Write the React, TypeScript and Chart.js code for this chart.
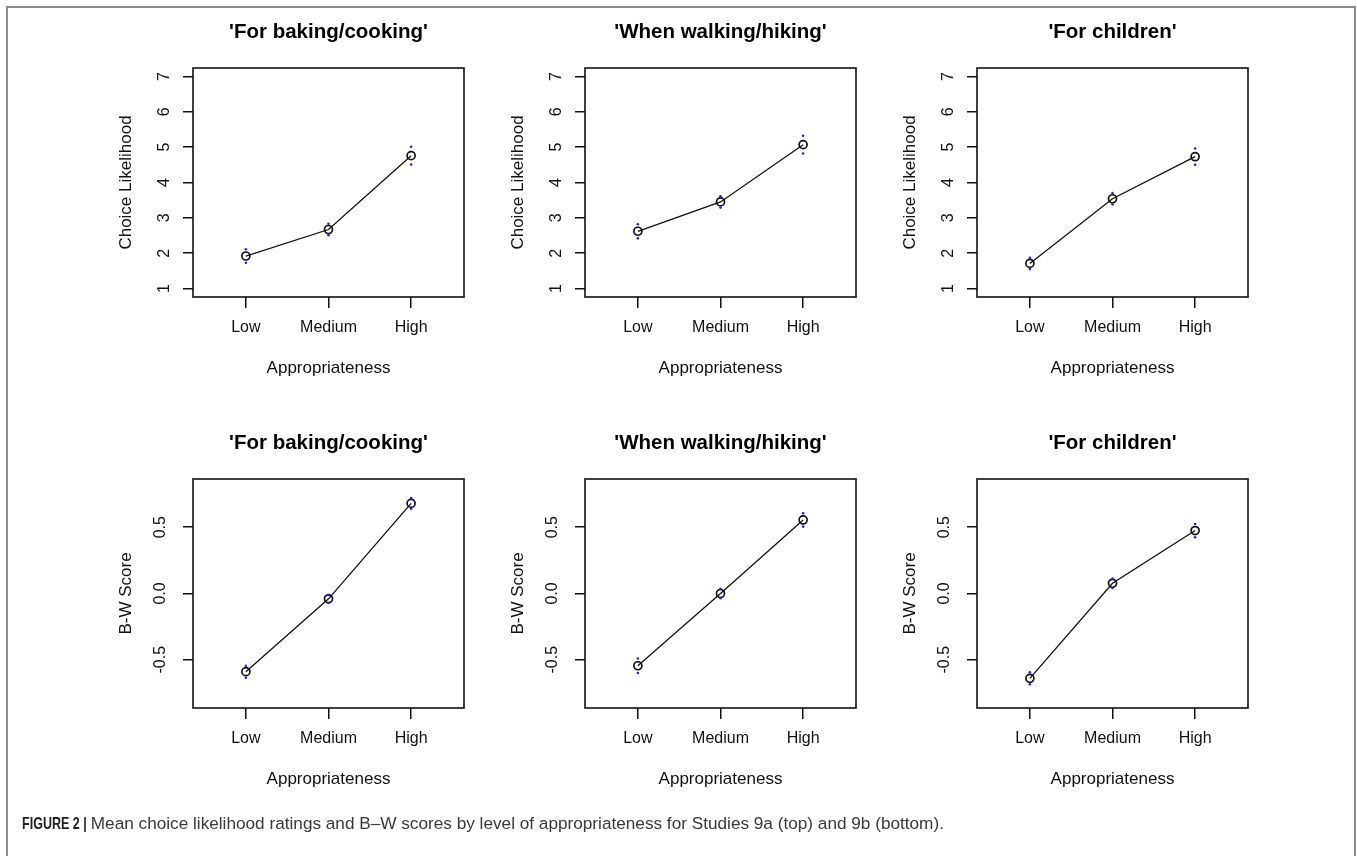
import React, { useEffect, useRef } from 'react';
import { Chart, registerables } from 'chart.js';

Chart.register(...registerables);

// ---- data ----
const levels = ['Low', 'Medium', 'High'];
const contextTitles = ["'For baking/cooking'", "'When walking/hiking'", "'For children'"];

const likelihoodBaking = [1.92, 2.67, 4.76];
const likelihoodWalking = [2.62, 3.45, 5.07];
const likelihoodChildren = [1.71, 3.54, 4.73];
const likelihoodSeBaking = [0.19, 0.16, 0.25];
const likelihoodSeWalking = [0.2, 0.16, 0.25];
const likelihoodSeChildren = [0.16, 0.16, 0.23];

const bwBaking = [-0.59, -0.04, 0.68];
const bwWalking = [-0.545, 0.0, 0.555];
const bwChildren = [-0.64, 0.077, 0.475];
const bwSeBaking = [0.045, 0.03, 0.04];
const bwSeWalking = [0.055, 0.035, 0.05];
const bwSeChildren = [0.045, 0.035, 0.05];

const likelihoodTicks = [1, 2, 3, 4, 5, 6, 7];
const bwTicks = [-0.5, 0.0, 0.5];

const FONT = "'Liberation Sans', Arial, Helvetica, sans-serif";

const framePlugin = {
  id: 'frame',
  afterDraw(chart: any) {
    const { ctx, chartArea } = chart;
    ctx.save();
    ctx.strokeStyle = '#111';
    ctx.lineWidth = 1.6;
    ctx.strokeRect(chartArea.left, chartArea.top, chartArea.right - chartArea.left, chartArea.bottom - chartArea.top);
    ctx.restore();
  },
};

type PanelProps = {
  title: string;
  yLabel: string;
  values: number[];
  se: number[];
  yMin: number;
  yMax: number;
  yTicks: number[];
  decimals: number;
  tickPad: number;
  left: number;
  top: number;
};

const W = 457;
const H = 410;

function Panel(p: PanelProps) {
  const ref = useRef<HTMLCanvasElement>(null);
  useEffect(() => {
    const points = p.values.map((v, i) => ({ x: i + 1, y: v }));
    const errPoints: { x: number; y: number }[] = [];
    p.values.forEach((v, i) => {
      errPoints.push({ x: i + 1, y: v - p.se[i] });
      errPoints.push({ x: i + 1, y: v + p.se[i] });
    });
    const chart = new Chart(ref.current as HTMLCanvasElement, {
      type: 'line',
      data: {
        datasets: [
          {
            data: errPoints,
            showLine: false,
            pointRadius: 1.3,
            pointBackgroundColor: '#1f1fff',
            pointBorderWidth: 0,
            borderColor: '#1f1fff',
          },
          {
            data: points,
            borderColor: '#111',
            borderWidth: 1.3,
            pointRadius: 4,
            pointBorderWidth: 1.7,
            pointBorderColor: '#111',
            pointBackgroundColor: 'rgba(0,0,0,0)',
            fill: false,
            tension: 0,
          },
        ],
      },
      options: {
        animation: false,
        responsive: false,
        events: [],
        layout: { padding: { left: 0, right: 0, top: 0, bottom: 23 } },
        plugins: {
          legend: { display: false },
          tooltip: { enabled: false },
          title: {
            display: true,
            text: p.title,
            color: '#000',
            font: { family: FONT, size: 20.5, weight: 'bold' },
            padding: { top: 20, bottom: 23.4 },
          },
        },
        scales: {
          x: {
            type: 'linear',
            min: 0.36,
            max: 3.64,
            afterBuildTicks: (s: any) => {
              s.ticks = levels.map((_, i) => ({ value: i + 1 }));
            },
            afterFit: (s: any) => {
              s.height = 90;
              s.paddingLeft = 0;
              s.paddingRight = 0;
            },
            ticks: {
              callback: (v: any) => levels[Math.round(v) - 1],
              autoSkip: false,
              maxRotation: 0,
              minRotation: 0,
              padding: 10,
              color: '#111',
              font: { family: FONT, size: 16 },
            },
            grid: { drawOnChartArea: false, drawTicks: true, tickLength: 11, color: '#111', lineWidth: 1.5 },
            border: { display: false },
            title: {
              display: true,
              text: 'Appropriateness',
              color: '#111',
              font: { family: FONT, size: 17 },
              padding: { top: 0, bottom: 8 },
            },
          },
          y: {
            type: 'linear',
            position: 'left',
            min: p.yMin,
            max: p.yMax,
            afterBuildTicks: (s: any) => {
              s.ticks = p.yTicks.map((v) => ({ value: v }));
            },
            afterFit: (s: any) => {
              s.width = 93;
              s.paddingTop = 0;
              s.paddingBottom = 0;
            },
            ticks: {
              callback: (v: any) => Number(v).toFixed(p.decimals),
              minRotation: 90,
              maxRotation: 90,
              crossAlign: 'center',
              padding: p.tickPad,
              color: '#111',
              font: { family: FONT, size: 16 },
            },
            grid: { drawOnChartArea: false, drawTicks: true, tickLength: 10, color: '#111', lineWidth: 1.5 },
            border: { display: false },
            title: {
              display: true,
              text: p.yLabel,
              color: '#111',
              font: { family: FONT, size: 17 },
              padding: { top: 15.8, bottom: 0 },
            },
          },
          yr: {
            type: 'linear',
            position: 'right',
            display: true,
            ticks: { display: false },
            grid: { display: false, drawTicks: false },
            border: { display: false },
            afterFit: (s: any) => {
              s.width = 93;
              s.paddingTop = 0;
              s.paddingBottom = 0;
            },
          },
        },
      } as any,
      plugins: [framePlugin],
    });
    return () => chart.destroy();
  }, []);
  return (
    <canvas
      ref={ref}
      width={W}
      height={H}
      style={{ position: 'absolute', left: p.left, top: p.top, width: W, height: H }}
    />
  );
}

const topValues = [likelihoodBaking, likelihoodWalking, likelihoodChildren];
const topSe = [likelihoodSeBaking, likelihoodSeWalking, likelihoodSeChildren];
const bottomValues = [bwBaking, bwWalking, bwChildren];
const bottomSe = [bwSeBaking, bwSeWalking, bwSeChildren];

export default function App() {
  useEffect(() => {
    document.body.style.margin = '0';
    document.body.style.overflow = 'hidden';
  }, []);
  return (
    <div style={{ position: 'relative', width: 1357, height: 856, overflow: 'hidden', background: '#fff' }}>
      <div
        style={{
          position: 'absolute',
          left: 6,
          top: 6,
          width: 1350,
          height: 1000,
          border: '2px solid #8c8c8c',
          boxSizing: 'border-box',
        }}
      />
      {contextTitles.map((t, i) => (
        <Panel
          key={'t' + i}
          title={t}
          yLabel="Choice Likelihood"
          values={topValues[i]}
          se={topSe[i]}
          yMin={0.76}
          yMax={7.24}
          yTicks={likelihoodTicks}
          decimals={0}
          tickPad={14.4}
          left={100 + 392 * i}
          top={0}
        />
      ))}
      {contextTitles.map((t, i) => (
        <Panel
          key={'b' + i}
          title={t}
          yLabel="B-W Score"
          values={bottomValues[i]}
          se={bottomSe[i]}
          yMin={-0.864}
          yMax={0.864}
          yTicks={bwTicks}
          decimals={1}
          tickPad={8.8}
          left={100 + 392 * i}
          top={411}
        />
      ))}
      <div
        style={{
          position: 'absolute',
          left: 22,
          top: 812,
          fontSize: 17.2,
          lineHeight: '22px',
          whiteSpace: 'nowrap',
          color: '#3a3a3a',
          fontFamily: FONT,
        }}
      >
        <span style={{ display: 'inline-block', width: 64 }}>
          <span
            style={{
              display: 'inline-block',
              transform: 'scaleX(0.76)',
              transformOrigin: 'left center',
              fontWeight: 'bold',
              color: '#222',
              fontSize: 16.5,
            }}
          >
            FIGURE 2 |
          </span>
        </span>{' '}
        Mean choice likelihood ratings and B–W scores by level of appropriateness for Studies 9a (top) and 9b (bottom).
      </div>
    </div>
  );
}
